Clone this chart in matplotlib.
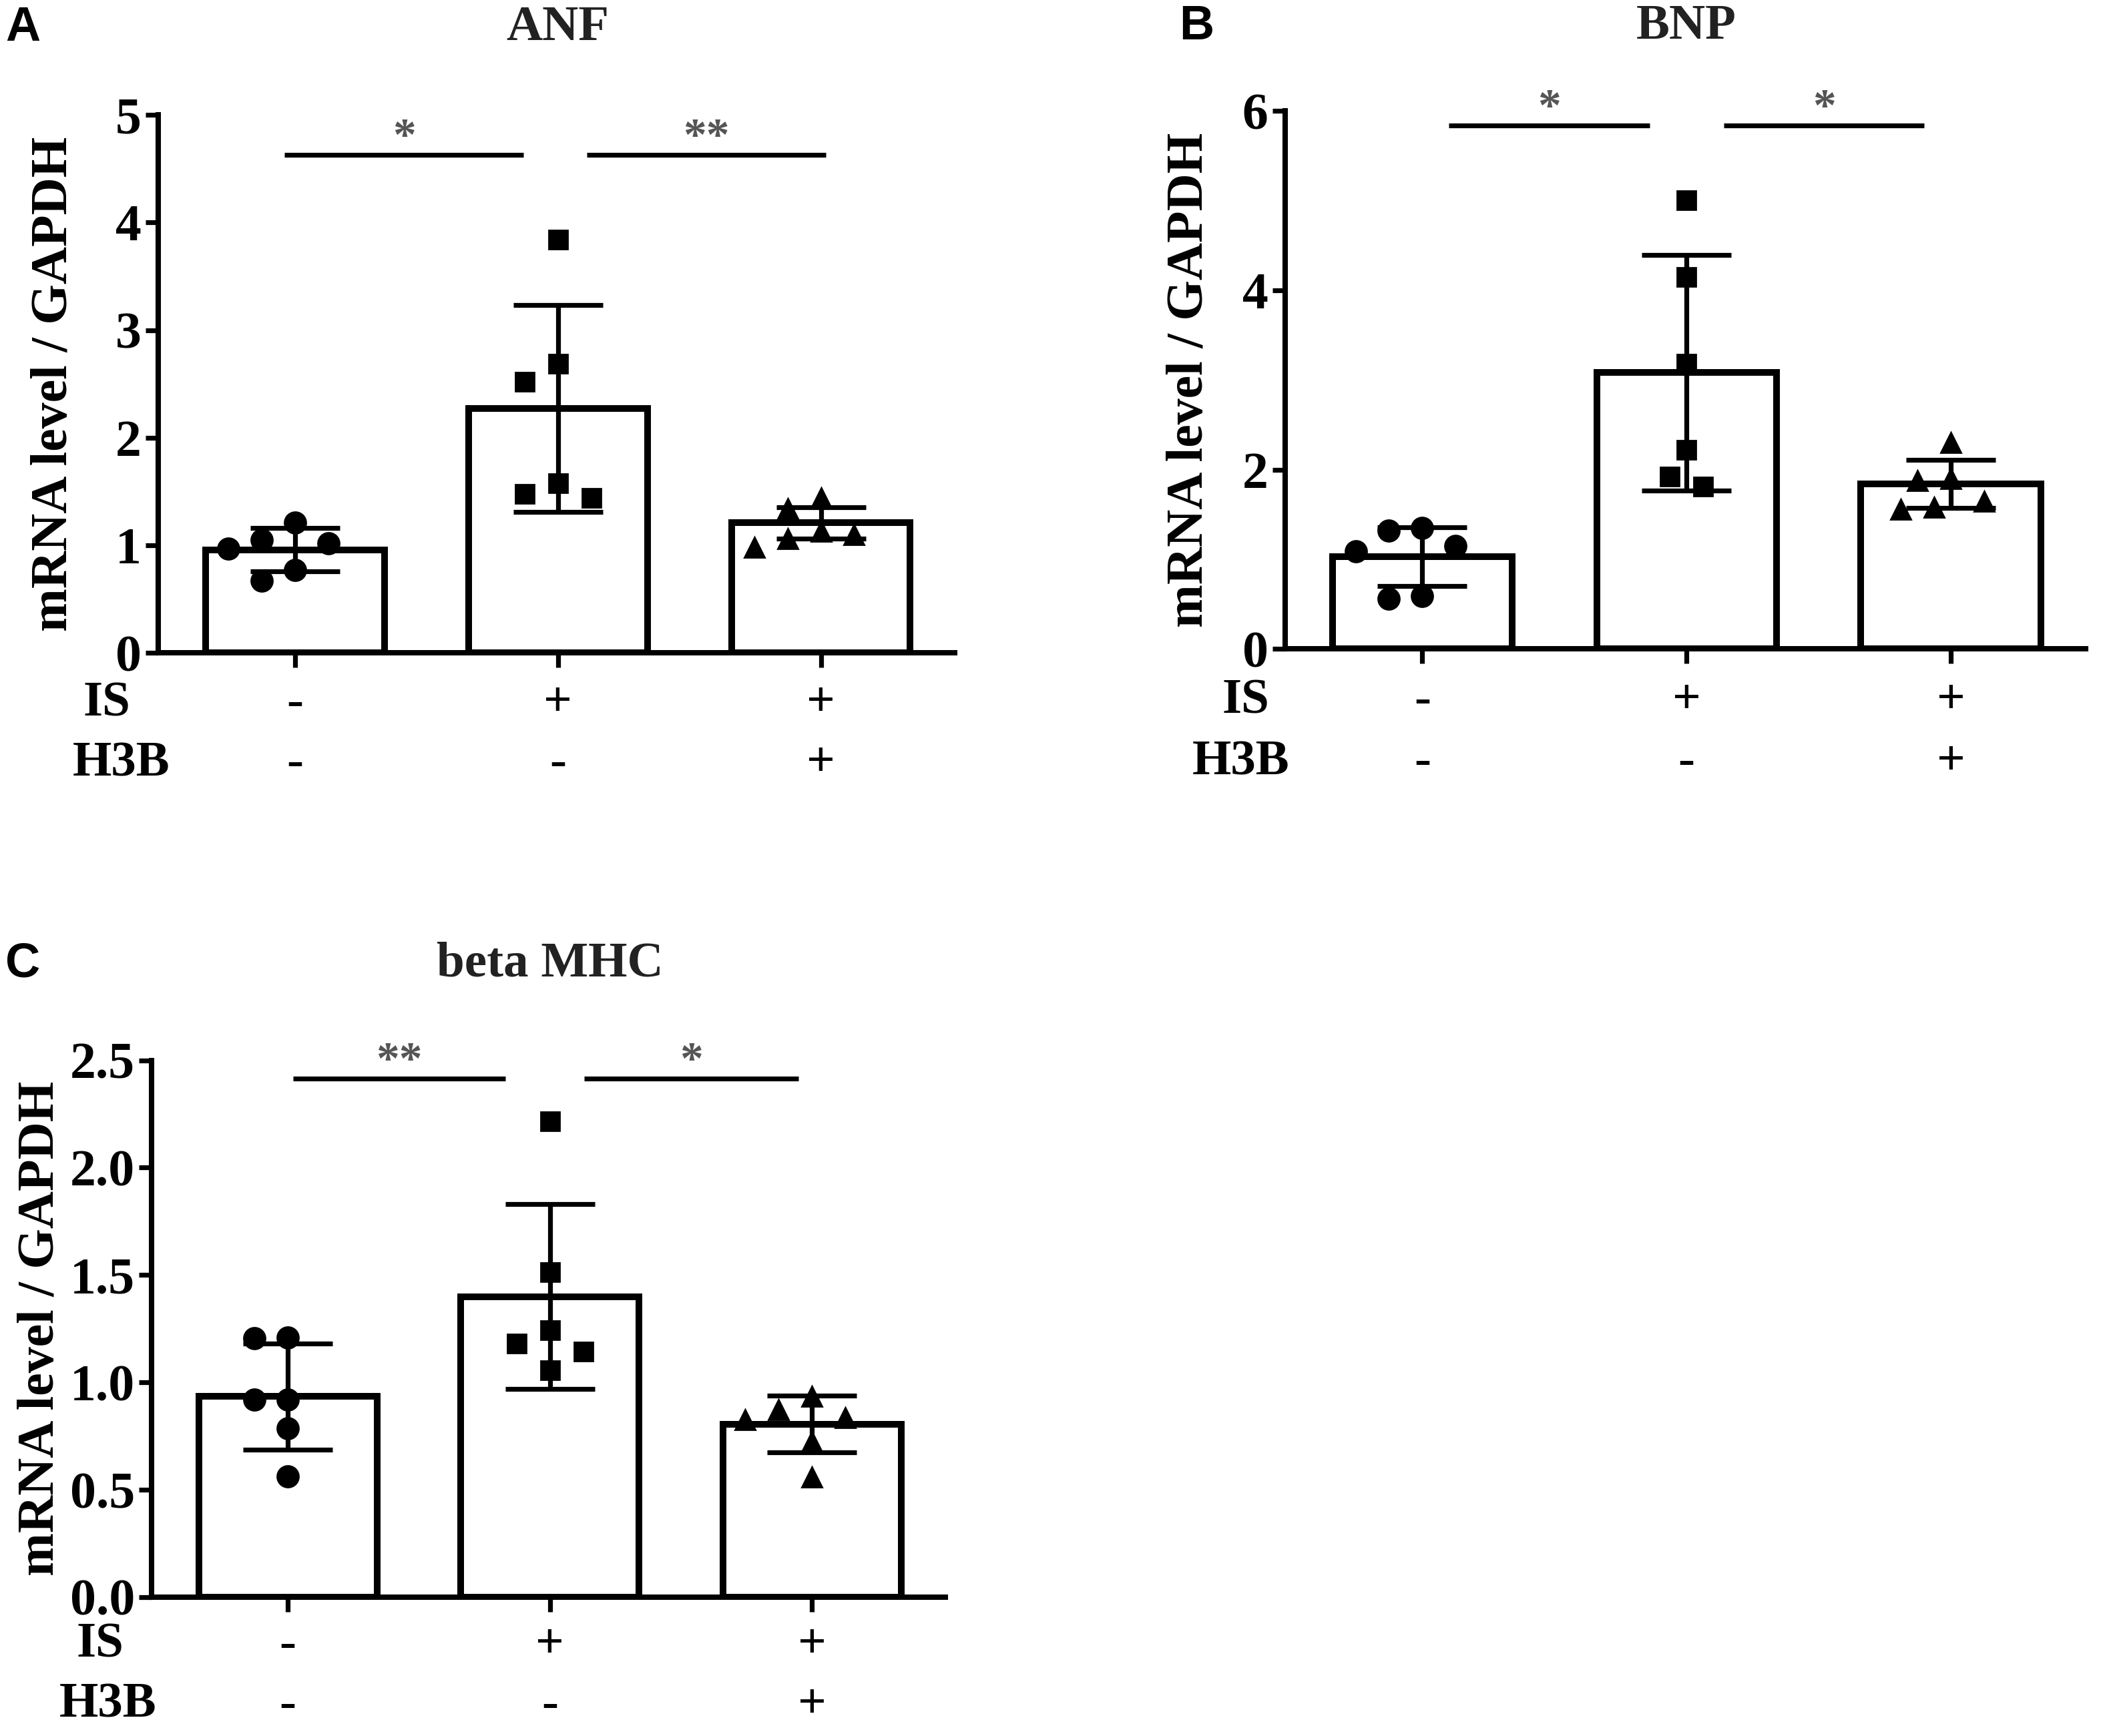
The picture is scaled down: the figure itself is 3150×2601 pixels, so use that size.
import matplotlib
matplotlib.use("Agg")
import matplotlib.pyplot as plt
import matplotlib.transforms as mtrans
import numpy as np

plt.rcParams['font.family'] = ['Liberation Serif', 'DejaVu Serif']
plt.rcParams['font.weight'] = 'bold'

# ---- data ----
groups_is = ['-', '+', '+']
groups_h3b = ['-', '-', '+']

anf_pts = [[1.21, 1.05, 0.97, 1.02, 0.77, 0.67],
           [3.84, 2.69, 2.52, 1.58, 1.44, 1.48],
           [1.44, 1.34, 1.13, 1.06, 0.98, 1.10]]
anf_mean = [0.96, 2.27, 1.21]
anf_sd = [0.20, 0.96, 0.145]

bnp_pts = [[1.35, 1.32, 1.15, 1.09, 0.56, 0.59],
           [5.00, 4.15, 3.18, 2.22, 1.81, 1.92],
           [2.30, 1.90, 1.88, 1.65, 1.56, 1.58]]
bnp_mean = [1.03, 3.08, 1.84]
bnp_sd = [0.33, 1.31, 0.27]

mhc_pts = [[1.205, 1.21, 0.92, 0.92, 0.785, 0.563],
           [2.217, 1.513, 1.242, 1.18, 1.143, 1.057],
           [0.935, 0.873, 0.827, 0.837, 0.724, 0.559]]
mhc_mean = [0.935, 1.40, 0.806]
mhc_sd = [0.247, 0.432, 0.131]

# significance brackets: (start, end), height, label
anf_sig = [((-0.04, 0.87), 4.63, '*'), ((1.11, 2.02), 4.63, '**')]
bnp_sig = [((0.10, 0.86), 5.84, '*'), ((1.14, 1.90), 5.84, '*')]
mhc_sig = [((0.02, 0.83), 2.415, '**'), ((1.13, 1.95), 2.415, '*')]

markers = ['o', 's', '^']
msizes = [11.5, 10, 11]

fig = plt.figure(figsize=(15.75, 13.005), dpi=200)


def swarm(ax, x0, vals, diam_px):
    # simple beeswarm: try offsets 0, -s, +s, -2s ... until no overlap
    step = 0.78 * diam_px
    mind = 1.35 * diam_px
    placed = []
    offs = [0.0] * len(vals)
    order = np.argsort(vals)[::-1]
    x0px, y0 = ax.transData.transform((x0, 0))
    for i in order:
        ypx = ax.transData.transform((x0, vals[i]))[1]
        for k in [0, -1, 1, -2, 2, -3, 3, -4, 4]:
            xpx = k * step
            if all((xpx - px) ** 2 + (ypx - py) ** 2 >= mind ** 2 for px, py in placed):
                break
        placed.append((xpx, ypx))
        offs[i] = ax.transData.inverted().transform((x0px + xpx, y0))[0]
    return offs


def panel(rect, pts, mean, sd, sig, ymax, yticks, fmt, title, letter,
          letter_x, title_y, row_y, is_x, h3b_x, ylab_x):
    ax = fig.add_axes(rect)
    x = np.arange(3)
    ax.set_xlim(-0.52, 2.51)
    ax.set_ylim(0, ymax)
    ax.bar(x, mean, width=0.68, color='white', edgecolor='black',
           linewidth=3.6, zorder=2)
    ax.errorbar(x, mean, yerr=sd, fmt='none', ecolor='black',
                elinewidth=2.6, capsize=24, capthick=2.6, zorder=3)
    fig.canvas.draw()
    for i in range(3):
        xs = swarm(ax, x[i], pts[i], 32)
        ax.plot(xs, pts[i], linestyle='none', marker=markers[i],
                markersize=msizes[i], color='black', zorder=4, clip_on=False)
    for (x1, x2), yy, lab in sig:
        ax.plot([x1, x2], [yy, yy], color='black', linewidth=2.6,
                solid_capstyle='butt', clip_on=False)
        ax.annotate(lab, ((x1 + x2) / 2, yy), xytext=(0, -3),
                    textcoords='offset points', ha='center', va='bottom',
                    fontsize=25, color='#555555', annotation_clip=False)
    for s in ['top', 'right']:
        ax.spines[s].set_visible(False)
    for s in ['left', 'bottom']:
        ax.spines[s].set_linewidth(2.9)
    ax.set_yticks(yticks)
    ax.set_yticklabels([fmt % v for v in yticks])
    ax.set_xticks(x)
    ax.set_xticklabels([])
    ax.tick_params(axis='y', length=7, width=2.6, labelsize=28, pad=2)
    ax.tick_params(axis='x', length=8, width=2.6)
    ax.set_ylabel('mRNA level / GAPDH', fontsize=28, fontweight='bold')
    ax.yaxis.set_label_coords(ylab_x, 0.5)

    tr = mtrans.blended_transform_factory(ax.transData, fig.transFigure)
    for i in range(3):
        ax.text(x[i], row_y[0], groups_is[i], transform=tr, ha='center',
                va='center', fontsize=27)
        ax.text(x[i], row_y[1], groups_h3b[i], transform=tr, ha='center',
                va='center', fontsize=27)
    fig.text(is_x, row_y[0], 'IS', ha='left', va='center', fontsize=27)
    fig.text(h3b_x, row_y[1], 'H3B', ha='left', va='center', fontsize=27)

    ax.text(1, title_y, title, transform=tr, ha='center', va='center',
            fontsize=27, color='#222222')
    fig.text(letter_x, title_y, letter, ha='left', va='center', fontsize=26,
             fontweight='bold', family=['Liberation Sans', 'DejaVu Sans'])
    return ax


H = 1300.0
W = 1568.0

panel([118 / W, 1 - 489 / H, (712 - 118) / W, (489 - 86) / H],
      anf_pts, anf_mean, anf_sd, anf_sig, 5, [0, 1, 2, 3, 4, 5], '%d',
      'ANF', 'A', 4 / W, 1 - 21 / H, (1 - 527 / H, 1 - 572 / H),
      62 / W, 54 / W, -0.101)

panel([958 / W, 1 - 486 / H, (1555 - 958) / W, (486 - 83) / H],
      bnp_pts, bnp_mean, bnp_sd, bnp_sig, 6, [0, 2, 4, 6], '%d',
      'BNP', 'B', 879 / W, 1 - 20 / H, (1 - 525 / H, 1 - 571 / H),
      911 / W, 889 / W, -0.089)

panel([113 / W, 1 - 1196 / H, (705 - 113) / W, (1196 - 794) / H],
      mhc_pts, mhc_mean, mhc_sd, mhc_sig, 2.5,
      [0.0, 0.5, 1.0, 1.5, 2.0, 2.5], '%.1f',
      'beta MHC', 'C', 4 / W, 1 - 722 / H, (1 - 1232 / H, 1 - 1277 / H),
      57 / W, 44 / W, -0.11)

fig.savefig('out.png', dpi=200, facecolor='white')
